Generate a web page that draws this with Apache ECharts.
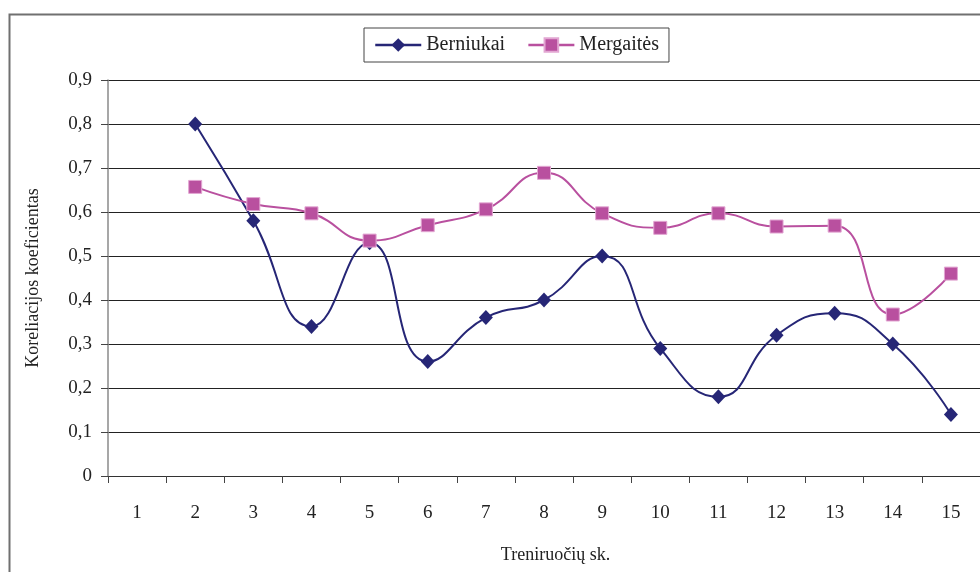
<!DOCTYPE html>
<html>
<head>
<meta charset="utf-8">
<title>Koreliacijos koeficientas</title>
<script src="https://cdn.jsdelivr.net/npm/echarts@6/dist/echarts.min.js"></script>
<style>
  html, body { margin: 0; padding: 0; background: #fff; }
  #chart { width: 980px; height: 572px; }
</style>
</head>
<body>
<div id="chart"></div>
<script>
// Training sessions (x categories)
var sessions = ['1', '2', '3', '4', '5', '6', '7', '8', '9', '10', '11', '12', '13', '14', '15'];

// Correlation coefficient per session; session 1 has no value
var berniukai = [null, 0.80, 0.58, 0.34, 0.53, 0.26, 0.36, 0.40, 0.50, 0.29, 0.18, 0.32, 0.37, 0.30, 0.14];
var mergaites = [null, 0.657, 0.618, 0.597, 0.535, 0.57, 0.606, 0.689, 0.597, 0.564, 0.597, 0.567, 0.569, 0.367, 0.46];

var seriesNames = ['Berniukai', 'Mergaitės'];
var xTitle = 'Treniruočių sk.';
var yTitle = 'Koreliacijos koeficientas';

var FONT = '"Liberation Serif", "Times New Roman", serif';
var NAVY = '#262676';
var PINK = '#b9509f';

var chart = echarts.init(document.getElementById('chart'), null, { renderer: 'canvas' });

chart.setOption({
  backgroundColor: '#ffffff',
  animation: false,
  textStyle: { fontFamily: FONT, color: '#222' },
  graphic: [{
    type: 'rect',
    left: 7,
    top: 12,
    shape: { width: 1000, height: 600 },
    style: { fill: 'none', stroke: '#707070', lineWidth: 2 },
    z: 0
  }],
  legend: {
    left: 364,
    top: 28,
    padding: [7, 10, 7, 10],
    itemGap: 22,
    itemWidth: 46,
    itemHeight: 17,
    borderColor: '#444',
    borderWidth: 1,
    backgroundColor: '#fff',
    lineStyle: { width: 2.5 },
    textStyle: { fontFamily: FONT, fontSize: 20, color: '#222', padding: [0, 0, 0, 0] },
    data: seriesNames
  },
  grid: {
    left: 108,
    top: 80,
    width: 875,
    height: 396,
    containLabel: false
  },
  xAxis: {
    type: 'category',
    data: sessions,
    boundaryGap: true,
    name: xTitle,
    nameLocation: 'middle',
    nameGap: 70,
    nameTextStyle: { fontFamily: FONT, fontSize: 18, color: '#222', padding: [0, 0, 0, 23] },
    axisLine: { lineStyle: { color: '#333', width: 1.2 } },
    axisTick: { show: true, inside: false, length: 7, alignWithLabel: false, lineStyle: { color: '#444' } },
    axisLabel: { fontFamily: FONT, fontSize: 19, color: '#222', margin: 28 },
    splitLine: { show: false }
  },
  yAxis: {
    type: 'value',
    min: 0,
    max: 0.9,
    interval: 0.1,
    name: yTitle,
    nameLocation: 'middle',
    nameGap: 66,
    nameRotate: 90,
    nameTextStyle: { fontFamily: FONT, fontSize: 18, color: '#222' },
    axisLine: { show: true, lineStyle: { color: '#8a8a8a', width: 1.5 } },
    axisTick: { show: true, inside: false, length: 7, lineStyle: { color: '#444' } },
    axisLabel: {
      fontFamily: FONT,
      fontSize: 19,
      color: '#222',
      margin: 16,
      formatter: function (v) {
        return String(Math.round(v * 10) / 10).replace('.', ',');
      }
    },
    splitLine: { show: true, lineStyle: { color: '#222', width: 1 } }
  },
  series: [
    {
      name: seriesNames[0],
      type: 'line',
      data: berniukai,
      smooth: 0.5,
      connectNulls: false,
      symbol: 'diamond',
      symbolSize: [14, 15],
      lineStyle: { color: NAVY, width: 2 },
      itemStyle: { color: NAVY, borderColor: NAVY, borderWidth: 0 },
      z: 3
    },
    {
      name: seriesNames[1],
      type: 'line',
      data: mergaites,
      smooth: 0.5,
      connectNulls: false,
      symbol: 'rect',
      symbolSize: 13,
      lineStyle: { color: PINK, width: 2 },
      itemStyle: { color: PINK, borderColor: '#e2a6d2', borderWidth: 1 },
      z: 4
    }
  ]
});
</script>
</body>
</html>
